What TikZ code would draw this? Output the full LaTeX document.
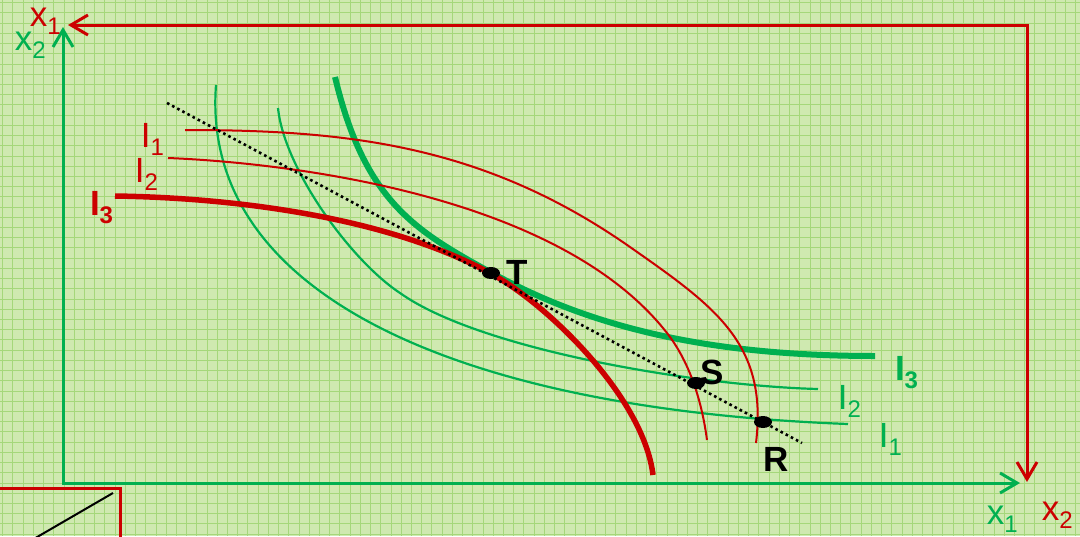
\documentclass[tikz,border=0pt]{standalone}
\usepackage{fontspec}
\setmainfont{Liberation Sans}
\usetikzlibrary{arrows.meta,shapes.geometric}
\definecolor{myred}{RGB}{204,0,0}
\definecolor{mygreen}{RGB}{0,176,80}
\definecolor{bgc}{RGB}{207,233,176}
\definecolor{gridc}{RGB}{165,215,122}
\newcommand{\bigf}{\fontsize{35}{35}\selectfont}
\newcommand{\subf}{\fontsize{24}{24}\selectfont}
\newcommand{\lbl}[2]{#1\raisebox{-8.5pt}{\subf #2}}
\begin{document}
\begin{tikzpicture}[x=1pt,y=-1pt,
  thinred/.style={myred,line width=2pt},
  thickred/.style={myred,line width=5.5pt},
  thingreen/.style={mygreen,line width=2.2pt},
  thickgreen/.style={mygreen,line width=6pt},
  axisg/.style={mygreen,line width=3pt},
  axisr/.style={myred,line width=3pt},
  barb/.tip={Straight Barb[length=17pt,width=20pt]},
  dotline/.style={black,line width=2.6pt,dash pattern=on 2.6pt off 3.2pt},
  dotpt/.style={ellipse,fill=black,inner sep=0pt,minimum width=18pt,minimum height=12pt},
  lab/.style={inner sep=0pt,anchor=base west,font=\bigf},
  blab/.style={inner sep=0pt,font=\bigf\bfseries,text=black}]
\useasboundingbox (0,0) rectangle (1080,536);
\fill[bgc] (0,0) rectangle (1080,536);
\foreach \i in {0,...,105} {
  \draw[gridc,line width=1pt] ({2.7+\i*10.22},0) -- ({2.7+\i*10.22},536);
}
\foreach \j in {0,...,52} {
  \draw[gridc,line width=1pt] (0,{2.7+\j*10.22}) -- (1080,{2.7+\j*10.22});
}
% axes
\coordinate (O1) at (63,483);
\coordinate (G2) at (63,27);
\coordinate (G1) at (1020,483);
\coordinate (O2) at (1027,25);
\coordinate (R1) at (68,25);
\coordinate (R2) at (1027,482);
\draw[axisg,barb-barb] (G2) -- (O1) -- (G1);
\draw[axisr,barb-barb] (R1) -- (O2) -- (R2);
% bottom-left fragment
\draw[axisr] (0,488) -- (120,488) -- (120,540);
\draw[black,line width=2pt] (32,540) -- (113,493);
% green curves
\draw[thingreen] (216,85) .. controls (200,300) and (470,410) .. (848,424);
\draw[thingreen] (278,108) .. controls (284,168) and (350,260) .. (400,293)
  .. controls (480,350) and (698,386) .. (818,389);
\draw[thickgreen] (335,77) .. controls (364.5,200.3) and (413.9,230.1) .. (490,272)
  .. controls (582.2,322.7) and (696.1,356) .. (875,356);
% red curves
\draw[thinred] (185,130) .. controls (346.2,130) and (483.4,144.4) .. (630,247)
  .. controls (716,307.2) and (768,343.7) .. (756,443);
\draw[thinred] (168,158) .. controls (268.4,162) and (554.6,189) .. (667,333)
  .. controls (694.7,368.5) and (703.7,415.2) .. (707,440);
\draw[thickred] (115,196) .. controls (228.4,197.7) and (383.3,215.4) .. (490,273)
  .. controls (548.5,304.6) and (643.7,398) .. (653,475);
% dotted line
\coordinate (D1) at (167,103);
\coordinate (D2) at (802,443);
\draw[dotline] (D1) -- (D2);
% points
\node[dotpt] (T) at (491,273) {};
\node[dotpt] (S) at (696,383) {};
\node[dotpt] (R) at (763,422) {};
\node[blab] (Tl) at (517,272) {T};
\node[blab] (Sl) at (712,372.5) {S};
\node[blab] (Rl) at (776.5,459.5) {R};
% labels
\node[lab,text=myred] (rI1) at (140.7,147) {\lbl{I}{1}};
\node[lab,text=myred] (rI2) at (134.7,182) {\lbl{I}{2}};
\node[lab,text=myred] (rI3) at (89.8,215) {\lbl{\bfseries I}{3}};
\node[lab,text=mygreen] (gI3) at (894.8,380) {\lbl{\bfseries I}{3}};
\node[lab,text=mygreen] (gI2) at (837.7,409) {\lbl{I}{2}};
\node[lab,text=mygreen] (gI1) at (878.7,447) {\lbl{I}{1}};
\node[lab,text=myred] (rx1) at (29.7,26) {\lbl{x}{1}};
\node[lab,text=mygreen] (gx2) at (14.7,50) {\lbl{x}{2}};
\node[lab,text=mygreen] (gx1) at (986.7,524) {\lbl{x}{1}};
\node[lab,text=myred] (rx2) at (1041.7,520) {\lbl{x}{2}};
\end{tikzpicture}
\end{document}
